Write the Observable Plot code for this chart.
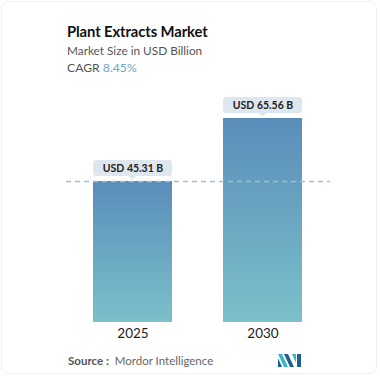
<!DOCTYPE html>
<html><head><meta charset="utf-8">
<script src="https://cdn.jsdelivr.net/npm/d3@7"></script>
<script src="https://cdn.jsdelivr.net/npm/@observablehq/plot@0.6"></script>
<style>
html,body{margin:0;padding:0;background:#fff;}
#card{position:relative;width:380px;height:380px;overflow:hidden;font-family:Lato,"Open Sans",sans-serif;}
#frame{position:absolute;left:1px;top:1px;width:376px;height:373px;border:1px solid #f0f0f0;border-radius:8px;box-sizing:border-box;}
#title{position:absolute;left:67px;top:22px;font-size:14.8px;font-weight:700;color:#111;letter-spacing:-0.1px;}
#sub{position:absolute;left:67px;top:43px;font-size:11.8px;color:#555;}
#cagr{position:absolute;left:67px;top:60px;font-size:12.2px;color:#555;}
#cagr span{color:#6fa3c9;}
#plot{position:absolute;left:0;top:80px;}
#source{position:absolute;left:68px;top:354px;font-size:11.5px;color:#666;}
#source b{color:#555;font-weight:700;}
#logo{position:absolute;left:278px;top:354px;}
</style></head>
<body>
<div id="card">
<div id="frame"></div>
<div id="title">Plant Extracts Market</div>
<div id="sub">Market Size in USD Billion</div>
<div id="cagr">CAGR <span>8.45%</span></div>
<div id="plot"></div>
<div id="source"><b>Source :</b>&nbsp; Mordor Intelligence</div>
<svg id="logo" width="24" height="13" viewBox="0 0 24 13">
<polygon points="0,0 4,0 10,13 6,13" fill="#3ab4cc"/>
<polygon points="0,4 0,13 4,13" fill="#1f5f8b"/>
<polygon points="6,0 10,0 16,13 12,13" fill="#1f5f8b"/>
<polygon points="14,0 18,0 18,9" fill="#3ab4cc"/>
<polygon points="19,0 23,0 23,13 19,13" fill="#1f5f8b"/>
</svg>
</div>
<script>
const years = ["2025", "2030"];
const values = [45.31, 65.56];
const labels = ["USD 45.31 B", "USD 65.56 B"];
const data = years.map((y, i) => ({year: y, value: values[i], label: labels[i]}));

const defs = () => {
  const d = d3.create("svg:defs");
  const g = d.append("linearGradient").attr("id", "barGrad").attr("x1", 0).attr("y1", 0).attr("x2", 0).attr("y2", 1);
  g.append("stop").attr("offset", "0%").attr("stop-color", "#5a8dba");
  g.append("stop").attr("offset", "100%").attr("stop-color", "#7cc0ca");
  return d.node();
};

const chart = Plot.plot({
  width: 380,
  height: 265,
  marginTop: 38,
  marginBottom: 23,
  marginLeft: 66,
  marginRight: 50,
  x: {domain: years, paddingInner: 0.392, paddingOuter: 0.21, label: null},
  y: {domain: [0, 65.56], axis: null},
  style: {fontFamily: "Lato, 'Open Sans', sans-serif", background: "transparent"},
  marks: [
    defs,
    Plot.barY(data, {x: "year", y: "value", fill: "url(#barGrad)"}),
    Plot.ruleY([values[0]], {stroke: "#a8bccb", strokeWidth: 1.5, strokeDasharray: "5,4"}),
    Plot.axisX({tickSize: 0, tickPadding: 6, fontSize: 13.5, color: "#222", label: null}),
    Plot.text(data, {x: "year", y: "value", text: "label", dy: -13, fontSize: 10.5, fontWeight: 700, fill: "#222", className: "lbl"})
  ]
});
document.getElementById("plot").appendChild(chart);

// label boxes behind value labels, positioned with the chart's scales
const xs = chart.scale("x"), ys = chart.scale("y");
const svg = d3.select(chart);
const lblG = svg.select("g.lbl").node() || svg.selectAll("g[aria-label='text']").nodes().pop();
const boxG = d3.create("svg:g");
data.forEach(d => {
  const x0 = xs.apply(d.year), bw = xs.bandwidth;
  const yb = ys.apply(d.value) - 5, h = 16, cx = x0 + bw / 2;
  boxG.append("rect").attr("x", x0).attr("y", yb - h).attr("width", bw).attr("height", h)
    .attr("rx", 3).attr("fill", "#dfe7ee");
  boxG.append("path").attr("d", `M${cx - 4},${yb} L${cx},${yb + 3.5} L${cx + 4},${yb} Z`).attr("fill", "#dfe7ee");
});
lblG.parentNode.insertBefore(boxG.node(), lblG);
</script>
</body></html>
